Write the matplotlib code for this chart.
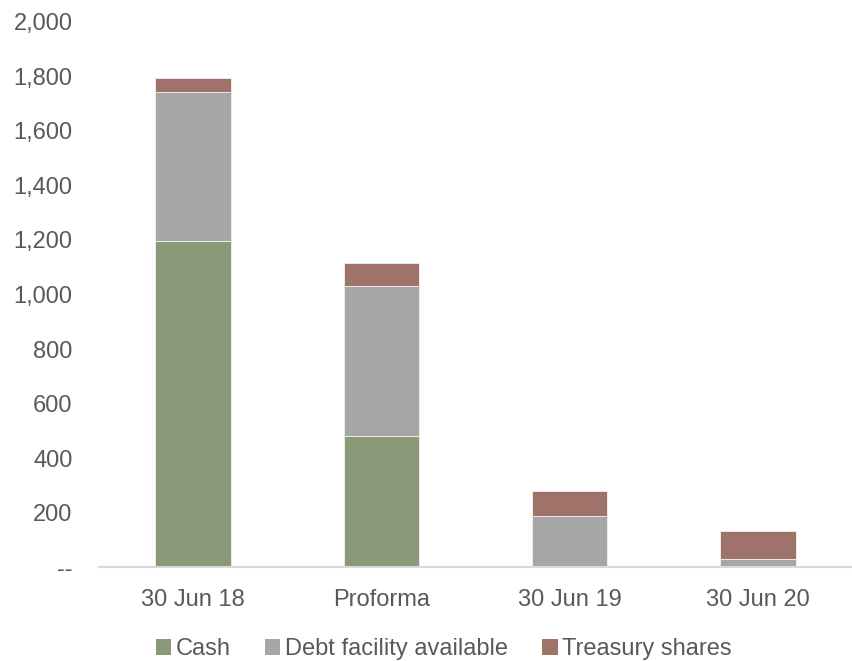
import matplotlib
matplotlib.use("Agg")
import matplotlib.pyplot as plt
from matplotlib.ticker import FuncFormatter
from matplotlib.patches import Patch

categories = ["30 Jun 18", "Proforma", "30 Jun 19", "30 Jun 20"]
cash = [1195, 482, 0, 0]
debt_facility = [548, 550, 188, 29]
treasury_shares = [52, 84, 93, 102]
series_names = ["Cash", "Debt facility available", "Treasury shares"]
colors = ["#8A9A78", "#A6A6A6", "#A0736A"]
text_color = "#595959"

plt.rcParams["font.family"] = ["Liberation Sans", "DejaVu Sans"]

fig = plt.figure(figsize=(8.52, 6.61), dpi=100)
ax = fig.add_axes([0.116, 0.142, 0.884, 0.825])

x = range(len(categories))
width = 0.4
bottom2 = [a + b for a, b in zip(cash, debt_facility)]
ax.bar(x, cash, width, color=colors[0], edgecolor="#F2F2F2", linewidth=0.6, zorder=2)
ax.bar(x, debt_facility, width, bottom=cash, color=colors[1], edgecolor="#F2F2F2", linewidth=0.6, zorder=2)
ax.bar(x, treasury_shares, width, bottom=bottom2, color=colors[2], edgecolor="#F2F2F2", linewidth=0.6, zorder=2)

ax.set_xlim(-0.5, len(categories) - 0.5)
ax.set_ylim(0, 2000)
ax.set_yticks(range(0, 2001, 200))
ax.yaxis.set_major_formatter(FuncFormatter(lambda v, p: "--" if v == 0 else f"{int(v):,}"))
ax.set_xticks(list(x))
ax.set_xticklabels(categories)

for s in ["top", "right", "left"]:
    ax.spines[s].set_visible(False)
ax.spines["bottom"].set_color("#D9D9D9")
ax.spines["bottom"].set_linewidth(1.5)
ax.tick_params(axis="both", length=0, labelsize=17, colors=text_color)
ax.tick_params(axis="y", pad=19)
ax.tick_params(axis="x", pad=16)

handles = [Patch(facecolor=c, edgecolor="none") for c in colors]
fig.legend(handles, series_names, loc="center", bbox_to_anchor=(0.521, 0.018),
           ncol=3, frameon=False, fontsize=17, handlelength=0.65, handleheight=0.65,
           handletextpad=0.2, columnspacing=1.45, labelcolor=text_color)

fig.savefig("out.png", dpi=100)
